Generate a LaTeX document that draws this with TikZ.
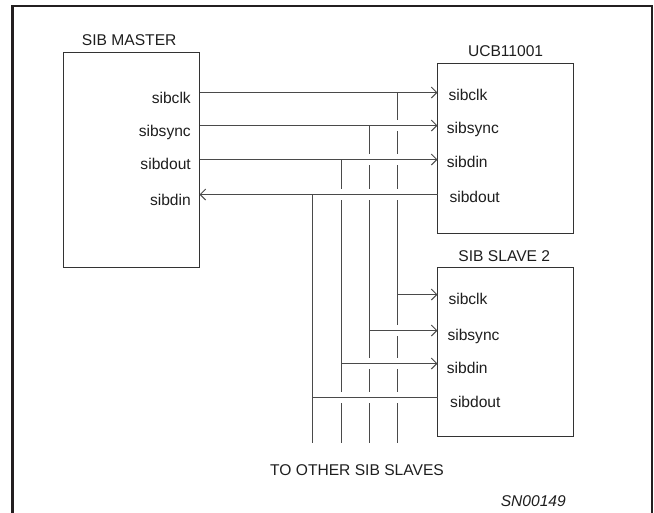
\documentclass[tikz,border=0pt]{standalone}
\usepackage{fontspec}
\setmainfont{Liberation Sans}
\usetikzlibrary{arrows.meta,calc}
\definecolor{framec}{HTML}{231F20}
\definecolor{linec}{HTML}{4A4A4A}
\definecolor{boxc}{HTML}{333333}
\definecolor{textc}{HTML}{1E1E1E}
\begin{document}
\begin{tikzpicture}[x=1pt,y=-1pt,
  box/.style={draw=boxc,line width=1.1pt,inner sep=0pt,outer sep=0pt,anchor=north west},
  wire/.style={draw=linec,line width=1pt},
  arr/.style={-{Straight Barb[length=5.5pt,width=11pt,line width=1pt]}},
  txt/.style={text=textc,inner sep=0pt,font=\fontsize{15.6}{18}\selectfont},
  lbr/.style={txt,anchor=base east},
  lbl/.style={txt,anchor=base west},
  ttl/.style={txt,anchor=base}]
\useasboundingbox (0,0) rectangle (654,512);
% outer frame
\draw[framec,line width=2.5pt] (12.7,520) -- (12.7,6.2) -- (652,6.2) -- (652,520);
% boxes
\node[box,minimum width=136pt,minimum height=215pt] (master) at (63.5,52.5) {};
\node[box,minimum width=136pt,minimum height=170pt] (ucb) at (437.5,63.5) {};
\node[box,minimum width=136pt,minimum height=169pt] (slave) at (437.5,267.5) {};
% titles
\node[ttl] (tm) at (129.2,45) {SIB MASTER};
\node[ttl] (tu) at (505.6,56) {UCB11001};
\node[ttl] (ts) at (504.3,261) {SIB SLAVE 2};
\node[ttl] (to) at (357,475) {TO OTHER SIB SLAVES};
\node[ttl,font=\fontsize{15.6}{18}\selectfont\itshape] (sn) at (533.3,506) {SN00149};
% rows and bus positions
\coordinate (r1) at (0,92.5);
\coordinate (r2) at (0,125.5);
\coordinate (r3) at (0,159.5);
\coordinate (r4) at (0,194.5);
\coordinate (s1) at (0,294.5);
\coordinate (s2) at (0,330.5);
\coordinate (s3) at (0,363.5);
\coordinate (s4) at (0,397.5);
\coordinate (bot) at (0,442.7);
\coordinate (xa) at (397.5,0);
\coordinate (xb) at (369.5,0);
\coordinate (xc) at (341.5,0);
\coordinate (xd) at (312.5,0);
% master labels
\node[lbr] (m1) at (191,103.1) {sibclk};
\node[lbr] (m2) at (191,136.5) {sibsync};
\node[lbr] (m3) at (191,169.8) {sibdout};
\node[lbr] (m4) at (191,205.1) {sibdin};
% UCB labels
\node[lbl] (u1) at (448.3,100.3) {sibclk};
\node[lbl] (u2) at (446.7,133.7) {sibsync};
\node[lbl] (u3) at (446.7,167.2) {sibdin};
\node[lbl] (u4) at (449.3,202.3) {sibdout};
% slave labels
\node[lbl] (v1) at (448.3,304.3) {sibclk};
\node[lbl] (v2) at (447.3,340) {sibsync};
\node[lbl] (v3) at (446.7,373.3) {sibdin};
\node[lbl] (v4) at (450,407.7) {sibdout};
% horizontal connectors master <-> UCB
\draw[wire,arr] (master.east |- r1) -- (ucb.west |- r1);
\draw[wire,arr] (master.east |- r2) -- (ucb.west |- r2);
\draw[wire,arr] (master.east |- r3) -- (ucb.west |- r3);
\draw[wire,arr] (ucb.west |- r4) -- (master.east |- r4);
% bus to slave 2
\draw[wire,arr] (xa |- s1) -- (slave.west |- s1);
\draw[wire,arr] (xb |- s2) -- (slave.west |- s2);
\draw[wire,arr] (xc |- s3) -- (slave.west |- s3);
\draw[wire] (slave.west |- s4) -- (xd |- s4);
% vertical buses with crossing gaps
\def\g{5.5}
% bus A (sibclk)
\draw[wire] (xa |- r1) -- ($(xa |- r2)+(0,-\g)$);
\draw[wire] ($(xa |- r2)+(0,\g)$) -- ($(xa |- r3)+(0,-\g)$);
\draw[wire] ($(xa |- r3)+(0,\g)$) -- ($(xa |- r4)+(0,-\g)$);
\draw[wire] ($(xa |- r4)+(0,\g)$) -- ($(xa |- s2)+(0,-\g)$);
\draw[wire] ($(xa |- s2)+(0,\g)$) -- ($(xa |- s3)+(0,-\g)$);
\draw[wire] ($(xa |- s3)+(0,\g)$) -- ($(xa |- s4)+(0,-\g)$);
\draw[wire] ($(xa |- s4)+(0,\g)$) -- (xa |- bot);
% bus B (sibsync)
\draw[wire] (xb |- r2) -- ($(xb |- r3)+(0,-\g)$);
\draw[wire] ($(xb |- r3)+(0,\g)$) -- ($(xb |- r4)+(0,-\g)$);
\draw[wire] ($(xb |- r4)+(0,\g)$) -- ($(xb |- s3)+(0,-\g)$);
\draw[wire] ($(xb |- s3)+(0,\g)$) -- ($(xb |- s4)+(0,-\g)$);
\draw[wire] ($(xb |- s4)+(0,\g)$) -- (xb |- bot);
% bus C (sibdout -> sibdin)
\draw[wire] (xc |- r3) -- ($(xc |- r4)+(0,-\g)$);
\draw[wire] ($(xc |- r4)+(0,\g)$) -- ($(xc |- s4)+(0,-\g)$);
\draw[wire] ($(xc |- s4)+(0,\g)$) -- (xc |- bot);
% bus D (sibdin <- sibdout)
\draw[wire] (xd |- r4) -- (xd |- bot);
\end{tikzpicture}
\end{document}
